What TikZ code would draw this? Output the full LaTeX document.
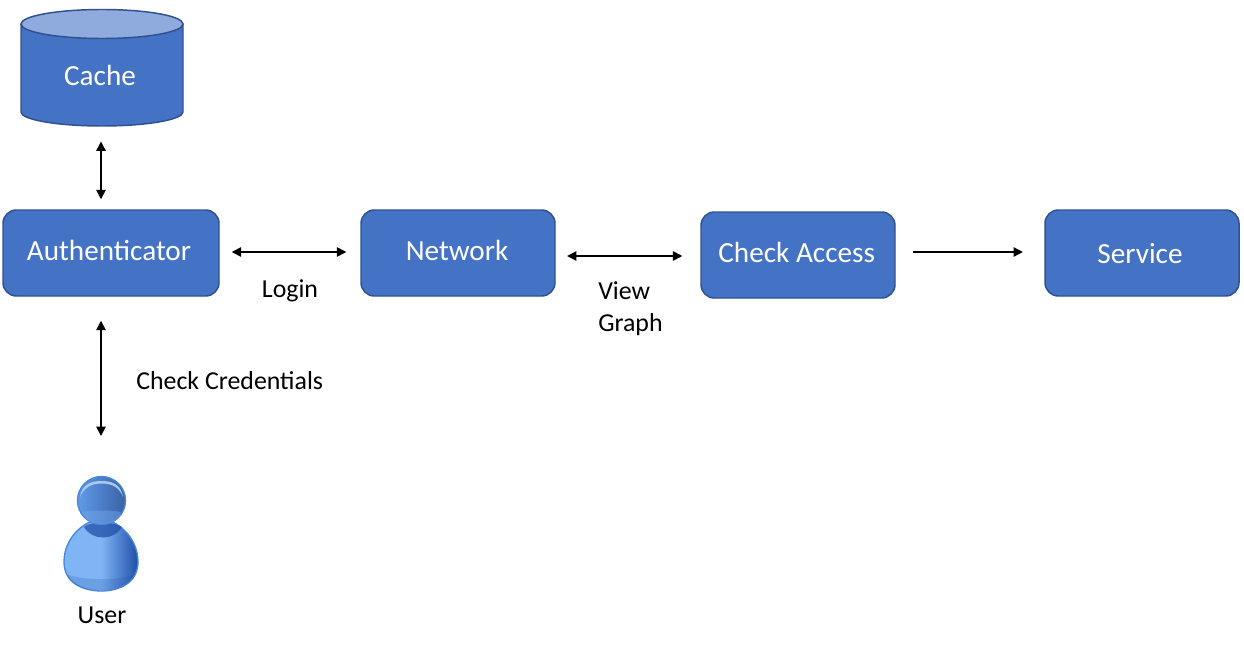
\documentclass[tikz,border=0pt]{standalone}
\usepackage{fontspec}
\setmainfont{Carlito}
\usetikzlibrary{arrows.meta}
\definecolor{boxfill}{HTML}{4472C4}
\definecolor{boxline}{HTML}{2F528F}
\definecolor{cyltop}{HTML}{8FAADC}
\definecolor{udark}{HTML}{1F4FA8}
\definecolor{umid}{HTML}{5F9BE8}
\definecolor{ulight}{HTML}{7FB5F5}
\definecolor{uedge}{HTML}{4A86D8}
\tikzset{
  x=0.75pt,y=-0.75pt,
  boxnode/.style={draw=boxline,fill=boxfill,line width=1.1pt,rounded corners=10pt,text=white,font=\fontsize{21.9pt}{24pt}\selectfont,inner sep=0pt,minimum height=64.5pt,text height=11pt,text depth=0pt},
  ghost/.style={inner sep=0pt,outer sep=0pt},
  lbl/.style={inner sep=0pt,font=\fontsize{19.4pt}{24pt}\selectfont,text=black},
  biarrow/.style={line width=1.1pt,{Triangle[length=7pt,width=7pt]}-{Triangle[length=7pt,width=7pt]}},
  oneway/.style={line width=1.1pt,-{Triangle[length=7pt,width=7pt]}},
}
\begin{document}
\begin{tikzpicture}
\useasboundingbox (0,0) rectangle (1244,656);
% cylinder
\path[fill=boxfill] (21,24) -- (21,112) arc[x radius=81,y radius=14,start angle=180,end angle=0] -- (183,24) -- cycle;
\draw[draw=boxline,line width=1.1pt] (21,24) -- (21,112) arc[x radius=81,y radius=14,start angle=180,end angle=0] -- (183,24);
\draw[draw=boxline,fill=cyltop,line width=1.1pt] (102,24) ellipse[x radius=81,y radius=14.5];
\node[ghost,minimum width=121.5pt,minimum height=87pt,text=white,font=\fontsize{21.9pt}{24pt}\selectfont] (cache) at (101,67.5) {\raisebox{-13.6pt}[0pt][0pt]{Cache\hspace*{1.5pt}}};
% boxes
\node[boxnode,minimum width=162pt] (auth) at (111,253) {Authenticator\hspace*{3pt}};
\node[boxnode,minimum width=145.5pt] (net) at (458,253) {Network\hspace*{1.5pt}};
\node[boxnode,minimum width=145.5pt] (check) at (798,255) {Check Access\hspace*{2pt}};
\node[boxnode,minimum width=145.5pt,text height=15pt] (svc) at (1142,253) {Service\hspace*{3pt}};
% user icon
\node[ghost,minimum width=55.5pt,minimum height=85.5pt] (user) at (101,534) {};
\begin{scope}
  \path[draw=uedge,line width=1pt,left color=ulight,right color=udark,middle color=ulight] (101.5,519)
    .. controls (88,519) and (64,535) .. (64,562)
    .. controls (64,582) and (82,591) .. (101.5,591)
    .. controls (120,591) and (138,582) .. (138,562)
    .. controls (138,535) and (114,519) .. (101.5,519) -- cycle;
  \path[fill=udark,fill opacity=0.75] (84,527) .. controls (90,521) and (112,521) .. (122,527) .. controls (114,541) and (92,541) .. (84,527) -- cycle;
  \path[fill=udark,fill opacity=0.2] (66,574) .. controls (84,581) and (120,581) .. (136,574) .. controls (132,586) and (118,590) .. (101.5,590) .. controls (84,590) and (70,586) .. (66,574) -- cycle;
  \path[draw=uedge,line width=1pt,left color=umid,right color=boxfill!85!black] (101.5,500.5) circle[radius=24];
  \path[fill=ulight!40!white,fill opacity=0.75] (80,497) .. controls (82,484) and (92,481) .. (101.5,481) .. controls (112,481) and (121,484) .. (123,497) .. controls (119,486) and (110,483.5) .. (101.5,483.5) .. controls (92,483.5) and (84,487) .. (80,497) -- cycle;
  \path[fill=ulight,fill opacity=0.35] (82,512) .. controls (92,510) and (112,510) .. (121,512) .. controls (118,522) and (108,524) .. (101.5,524) .. controls (94,524) and (86,522) .. (82,512) -- cycle;
\end{scope}
% connectors
\draw[biarrow,shorten <=12pt,shorten >=7.5pt] (cache.south) -- (cache.south |- auth.north);
\draw[biarrow,shorten <=18pt,shorten >=30.75pt] (user.north |- auth.south) -- (user.north);
\draw[biarrow,shorten <=9pt,shorten >=10.5pt] ([yshift=0.75pt]auth.east) -- ([yshift=0.75pt]net.west);
\draw[biarrow,shorten <=8.5pt,shorten >=13.5pt] ([yshift=-2.25pt]net.east) -- ([yshift=-2.25pt]net.east -| check.west);
\draw[oneway,shorten <=13pt,shorten >=16pt] ([yshift=2.25pt]check.east) -- ([yshift=2.25pt]check.east -| svc.west);
% labels
\node[lbl] (login) at (290,290.5) {Login};
\node[lbl,anchor=west] (view) at (598,291) {View};
\node[lbl,anchor=west] (graph) at (598,325) {Graph};
\node[lbl,anchor=west] (cred) at (136,381) {Check Credentials};
\node[lbl] (userlbl) at (102,615) {User};
\end{tikzpicture}
\end{document}
